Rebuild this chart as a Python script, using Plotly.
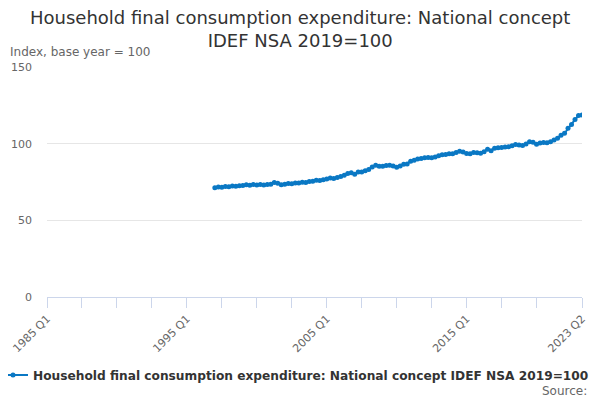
import plotly.graph_objects as go

# Quarter categories 1985 Q1 .. 2023 Q2
quarters = [f"{y} Q{q}" for y in range(1985, 2024) for q in range(1, 5)]
quarters = quarters[:quarters.index("2023 Q2") + 1]

# Series starts in 1997 Q1
series_start = "1997 Q1"
values = [
    71.2, 71.8, 71.6, 72.0,   # 1997
    71.9, 72.4, 72.2, 72.6,   # 1998
    72.7, 73.2, 72.9, 73.3,   # 1999
    73.0, 73.3, 73.0, 73.4,   # 2000
    73.6, 74.6, 74.2, 73.2,   # 2001
    73.6, 74.0, 73.8, 74.3,   # 2002
    74.4, 74.8, 74.6, 75.3,   # 2003
    75.5, 76.1, 75.9, 76.5,   # 2004
    77.0, 77.6, 77.3, 77.9,   # 2005
    78.6, 79.4, 80.5, 81.0,   # 2006
    80.0, 81.5, 81.6, 82.4,   # 2007
    83.2, 84.8, 86.0, 85.2,   # 2008
    85.3, 85.7, 86.0, 85.4,   # 2009
    84.6, 85.5, 86.5, 86.8,   # 2010
    88.5, 89.2, 90.0, 90.3,   # 2011
    90.8, 91.0, 90.8, 91.3,   # 2012
    92.2, 92.8, 93.0, 93.5,   # 2013
    93.4, 94.2, 95.0, 94.5,   # 2014
    93.6, 93.4, 94.3, 94.0,   # 2015
    93.7, 94.8, 96.3, 95.3,   # 2016
    97.0, 97.4, 97.5, 97.9,   # 2017
    98.0, 98.6, 99.5, 99.2,   # 2018
    98.8, 99.8, 101.3, 101.0, # 2019
    99.6, 100.5, 100.8, 100.6, # 2020
    101.3, 102.4, 103.5, 105.5, # 2021
    106.8, 110.0, 112.5, 115.7, # 2022
    118.3, 118.7,             # 2023
]
x_data = quarters[quarters.index(series_start):]

series_name = "Household final consumption expenditure: National concept IDEF NSA 2019=100"

# tick marks every 10 quarters plus the last one, labels every 40
tick_idx = list(range(0, 150, 10)) + [len(quarters) - 1]
tick_vals = [quarters[i] for i in tick_idx]
tick_text = [quarters[i] if (i % 40 == 0 or i == len(quarters) - 1) else "" for i in tick_idx]

y_ticks = [0, 50, 100, 150]

blue = "#0a78c4"

fig = go.Figure()
fig.add_trace(go.Scatter(
    x=x_data,
    y=values,
    mode="lines+markers",
    name=series_name,
    line=dict(color=blue, width=2),
    marker=dict(color=blue, size=5),
))

# page body adds an 8px offset, margins compensate for it
fig.update_layout(
    width=600,
    height=400,
    margin=dict(l=39, r=26, t=59, b=111),
    paper_bgcolor="white",
    plot_bgcolor="white",
    font=dict(family="DejaVu Sans", color="#666666", size=11),
    title=dict(
        text="Household final consumption expenditure: National concept<br>IDEF NSA 2019=100",
        x=0.487, xanchor="center",
        y=0.96, yanchor="middle",
        font=dict(family="DejaVu Sans", size=18, color="#333333"),
    ),
    showlegend=True,
    legend=dict(
        orientation="h",
        xref="container", yref="container",
        x=0, xanchor="left",
        y=0.0825, yanchor="middle",
        indentation=-15,
        font=dict(family="DejaVu Sans", size=12.2, color="#333333", weight="bold"),
        itemwidth=30,
    ),
    annotations=[
        dict(text="Index, base year = 100", xref="paper", yref="paper",
             x=-0.072, y=1.065, xanchor="left", yanchor="middle",
             showarrow=False, font=dict(size=12, color="#666666")),
        dict(text="Source:", xref="paper", yref="paper",
             x=1.014, y=-0.41, xanchor="right", yanchor="middle",
             showarrow=False, font=dict(size=12, color="#666666")),
    ],
)

fig.update_xaxes(
    type="category",
    categoryorder="array",
    categoryarray=quarters,
    range=[0, len(quarters) - 1],
    tickmode="array",
    tickvals=tick_vals,
    ticktext=tick_text,
    tickangle=-45,
    ticks="outside",
    ticklen=10,
    tickcolor="#ccd6eb",
    showline=True,
    linecolor="#ccd6eb",
    showgrid=False,
    automargin=False,
    tickfont=dict(size=11, color="#666666"),
)

fig.update_yaxes(
    range=[0, 150],
    tickvals=y_ticks,
    showgrid=True,
    gridcolor="#e6e6e6",
    zeroline=False,
    automargin=False,
    ticklabelstandoff=14,
    tickfont=dict(size=11, color="#666666"),
)

fig.write_html("out.html")
